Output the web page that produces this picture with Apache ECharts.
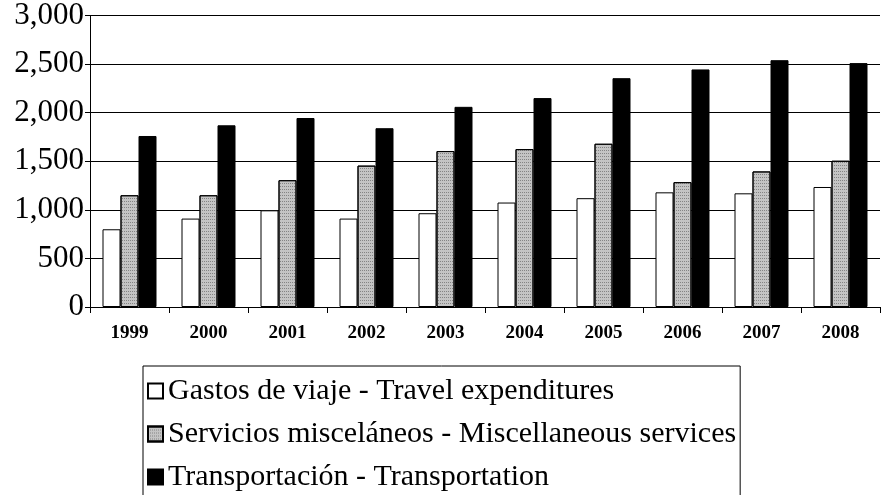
<!DOCTYPE html>
<html><head><meta charset="utf-8">
<script src="https://cdn.jsdelivr.net/npm/echarts@6/dist/echarts.min.js"></script>
<style>html,body{margin:0;padding:0;background:#fff}#c{width:884px;height:495px}</style>
</head><body><div id="c"></div>
<script>
const years = ['1999','2000','2001','2002','2003','2004','2005','2006','2007','2008'];
const travel = [800, 910, 995, 910, 965, 1075, 1120, 1180, 1170, 1235];
const misc = [1150, 1150, 1305, 1455, 1605, 1625, 1680, 1285, 1395, 1505];
const transport = [1760, 1870, 1945, 1840, 2060, 2150, 2355, 2445, 2540, 2510];
const yTicks = [0, 500, 1000, 1500, 2000, 2500, 3000];
const names = ['Gastos de viaje - Travel expenditures','Servicios misceláneos - Miscellaneous services','Transportación - Transportation'];

const serif = 'Liberation Serif';
const chart = echarts.init(document.getElementById('c'));
function fmt(v){ return v.toLocaleString('en-US'); }
chart.setOption({
  animation:false,
  grid:{left:90, right:4, top:15, bottom:188},
  legend:{
    orient:'vertical', left:143, top:366, height:300,
    borderColor:'#000', borderWidth:1, padding:[10,4,30,4],
    icon:'rect',
    itemWidth:15, itemHeight:15, itemGap:13,
    textStyle:{fontFamily:serif, fontSize:30, color:'#000', lineHeight:30},
    data:names
  },
  xAxis:{
    type:'category', data:years,
    axisLine:{lineStyle:{color:'#000', width:1}},
    axisTick:{show:true, length:6, lineStyle:{color:'#000'}},
    axisLabel:{fontFamily:serif, fontWeight:'bold', fontSize:19, color:'#000', margin:17}
  },
  yAxis:{
    type:'value', min:yTicks[0], max:yTicks[yTicks.length-1], interval:500,
    axisLine:{show:true, lineStyle:{color:'#000', width:1}},
    axisTick:{show:true, length:5, lineStyle:{color:'#000'}},
    axisLabel:{fontFamily:serif, fontSize:31, color:'#000', margin:6, formatter:fmt},
    splitLine:{lineStyle:{color:'#000', width:1}}
  },
  series:[
    {name:names[0], type:'bar', data:travel, barWidth:18, barGap:'0%',
     itemStyle:{color:'#fff', borderColor:'#000', borderWidth:1}},
    {name:names[1], type:'bar', data:misc, barWidth:18,
     itemStyle:{color:'#c4c4c4', borderColor:'#000', borderWidth:1,
       decal:{symbol:'rect', symbolSize:1, dashArrayX:[1,1], dashArrayY:[1,2], color:'rgba(90,90,90,0.6)', rotation:0}}},
    {name:names[2], type:'bar', data:transport, barWidth:18,
     itemStyle:{color:'#000', borderColor:'#000', borderWidth:1}}
  ]
});
</script></body></html>
